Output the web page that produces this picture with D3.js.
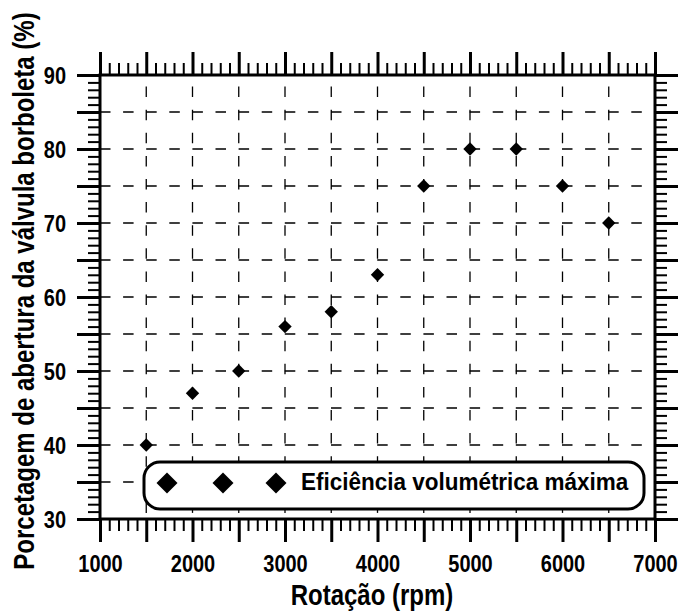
<!DOCTYPE html>
<html>
<head>
<meta charset="utf-8">
<script src="https://cdn.jsdelivr.net/npm/d3@7"></script>
<style>
  body { margin: 0; background: #fff; }
  svg { display: block; font-family: "Liberation Sans", Arial, sans-serif; font-weight: bold; }
</style>
</head>
<body>
<svg id="chart" width="678" height="611"></svg>
<script>
const rotacao = [1500, 2000, 2500, 3000, 3500, 4000, 4500, 5000, 5500, 6000, 6500];
const abertura = [40, 47, 50, 56, 58, 63, 75, 80, 80, 75, 70];
const xTicks = [1000, 2000, 3000, 4000, 5000, 6000, 7000];
const yTicks = [30, 40, 50, 60, 70, 80, 90];
const legendLabel = "Eficiência volumétrica máxima";

const svg = d3.select("#chart");
const plotLeft = 100, plotRight = 655, plotTop = 75, plotBottom = 519;

const x = d3.scaleLinear().domain([1000, 7000]).range([plotLeft, plotRight]);
const y = d3.scaleLinear().domain([30, 90]).range([plotBottom, plotTop]);

const xMinor = d3.range(1000, 7001, 100);
const xMajor = d3.range(1000, 7001, 500);
const yMinor = d3.range(30, 91, 1);
const yMajor = d3.range(30, 91, 5);

// grid
const grid = svg.append("g").attr("stroke", "#000").attr("stroke-width", 1.3)
    .attr("stroke-dasharray", "10.5,12.6");
grid.selectAll("line.v")
    .data(xMajor.filter(v => v > 1000 && v < 7000))
    .join("line")
    .attr("class", "v")
    .attr("x1", d => x(d)).attr("x2", d => x(d))
    .attr("y1", plotTop).attr("y2", plotBottom)
    .attr("stroke-dashoffset", 11.5);
grid.selectAll("line.h")
    .data(yMajor.filter(v => v > 30 && v < 90))
    .join("line")
    .attr("class", "h")
    .attr("y1", d => y(d)).attr("y2", d => y(d))
    .attr("x1", plotLeft).attr("x2", plotRight);

// axes with minor / major ticks
function drawAxis(axisFn, scale, transform, minor, major) {
    svg.append("g").attr("transform", transform)
        .call(axisFn(scale).tickValues(minor.filter(v => !major.includes(v))).tickSize(12).tickFormat(""))
        .call(g => g.select(".domain").remove())
        .call(g => g.selectAll("line").attr("stroke-width", 2));
    svg.append("g").attr("transform", transform)
        .call(axisFn(scale).tickValues(major).tickSize(23).tickFormat(""))
        .call(g => g.select(".domain").remove())
        .call(g => g.selectAll("line").attr("stroke-width", 3));
}
drawAxis(d3.axisBottom, x, `translate(0,${plotBottom})`, xMinor, xMajor);
drawAxis(d3.axisTop, x, `translate(0,${plotTop})`, xMinor, xMajor);
drawAxis(d3.axisLeft, y, `translate(${plotLeft},0)`, yMinor, yMajor);
drawAxis(d3.axisRight, y, `translate(${plotRight},0)`, yMinor, yMajor);

// tick labels (the original font is drawn a little taller than wide)
svg.append("g").attr("transform", `translate(0,${plotBottom})`)
    .call(d3.axisBottom(x).tickValues(xTicks).tickSize(0).tickFormat(d3.format("d")))
    .call(g => g.select(".domain").remove())
    .call(g => g.selectAll("line").remove())
    .call(g => g.selectAll("text")
        .attr("font-size", 20).attr("font-family", null).attr("fill", "#000")
        .attr("y", 0).attr("dy", null)
        .attr("transform", "translate(0,53) scale(1,1.2)"));
svg.append("g").attr("transform", `translate(${plotLeft},0)`)
    .call(d3.axisLeft(y).tickValues(yTicks).tickSize(0).tickFormat(d3.format("d")))
    .call(g => g.select(".domain").remove())
    .call(g => g.selectAll("line").remove())
    .call(g => g.selectAll("text")
        .attr("font-size", 20).attr("font-family", null).attr("fill", "#000")
        .attr("x", 0).attr("dy", null)
        .attr("transform", "translate(-34,8.5) scale(1,1.2)"));

// frame
svg.append("rect")
    .attr("x", plotLeft).attr("y", plotTop)
    .attr("width", plotRight - plotLeft).attr("height", plotBottom - plotTop)
    .attr("fill", "none").attr("stroke", "#000").attr("stroke-width", 3);

// points
const diamond = d3.symbol().type(d3.symbolSquare);
svg.append("g").selectAll("path")
    .data(rotacao.map((r, i) => [r, abertura[i]]))
    .join("path")
    .attr("d", diamond.size(2 * 6.7 * 6.7)())
    .attr("transform", d => `translate(${x(d[0])},${y(d[1])}) rotate(45)`)
    .attr("fill", "#000");

// legend
const legend = svg.append("g");
legend.append("rect")
    .attr("x", 144).attr("y", 462).attr("width", 500).attr("height", 47)
    .attr("rx", 16).attr("ry", 16)
    .attr("fill", "#fff").attr("stroke", "#000").attr("stroke-width", 3);
legend.selectAll("path")
    .data([167, 223, 276])
    .join("path")
    .attr("d", d3.symbol().type(d3.symbolSquare).size(2 * 10.5 * 10.5)())
    .attr("transform", d => `translate(${d},483) rotate(45)`)
    .attr("fill", "#000");
legend.append("text")
    .attr("transform", "translate(301,490) scale(1,1.05)")
    .attr("font-size", 22.5)
    .text(legendLabel);

// axis titles
svg.append("text")
    .attr("transform", "translate(372,605) scale(1,1.25)")
    .attr("text-anchor", "middle")
    .attr("font-size", 24)
    .text("Rotação (rpm)");
svg.append("text")
    .attr("transform", "translate(34,291) rotate(-90) scale(1,1.25)")
    .attr("text-anchor", "middle")
    .attr("font-size", 24)
    .text("Porcetagem de abertura da válvula borboleta (%)");
</script>
</body>
</html>
